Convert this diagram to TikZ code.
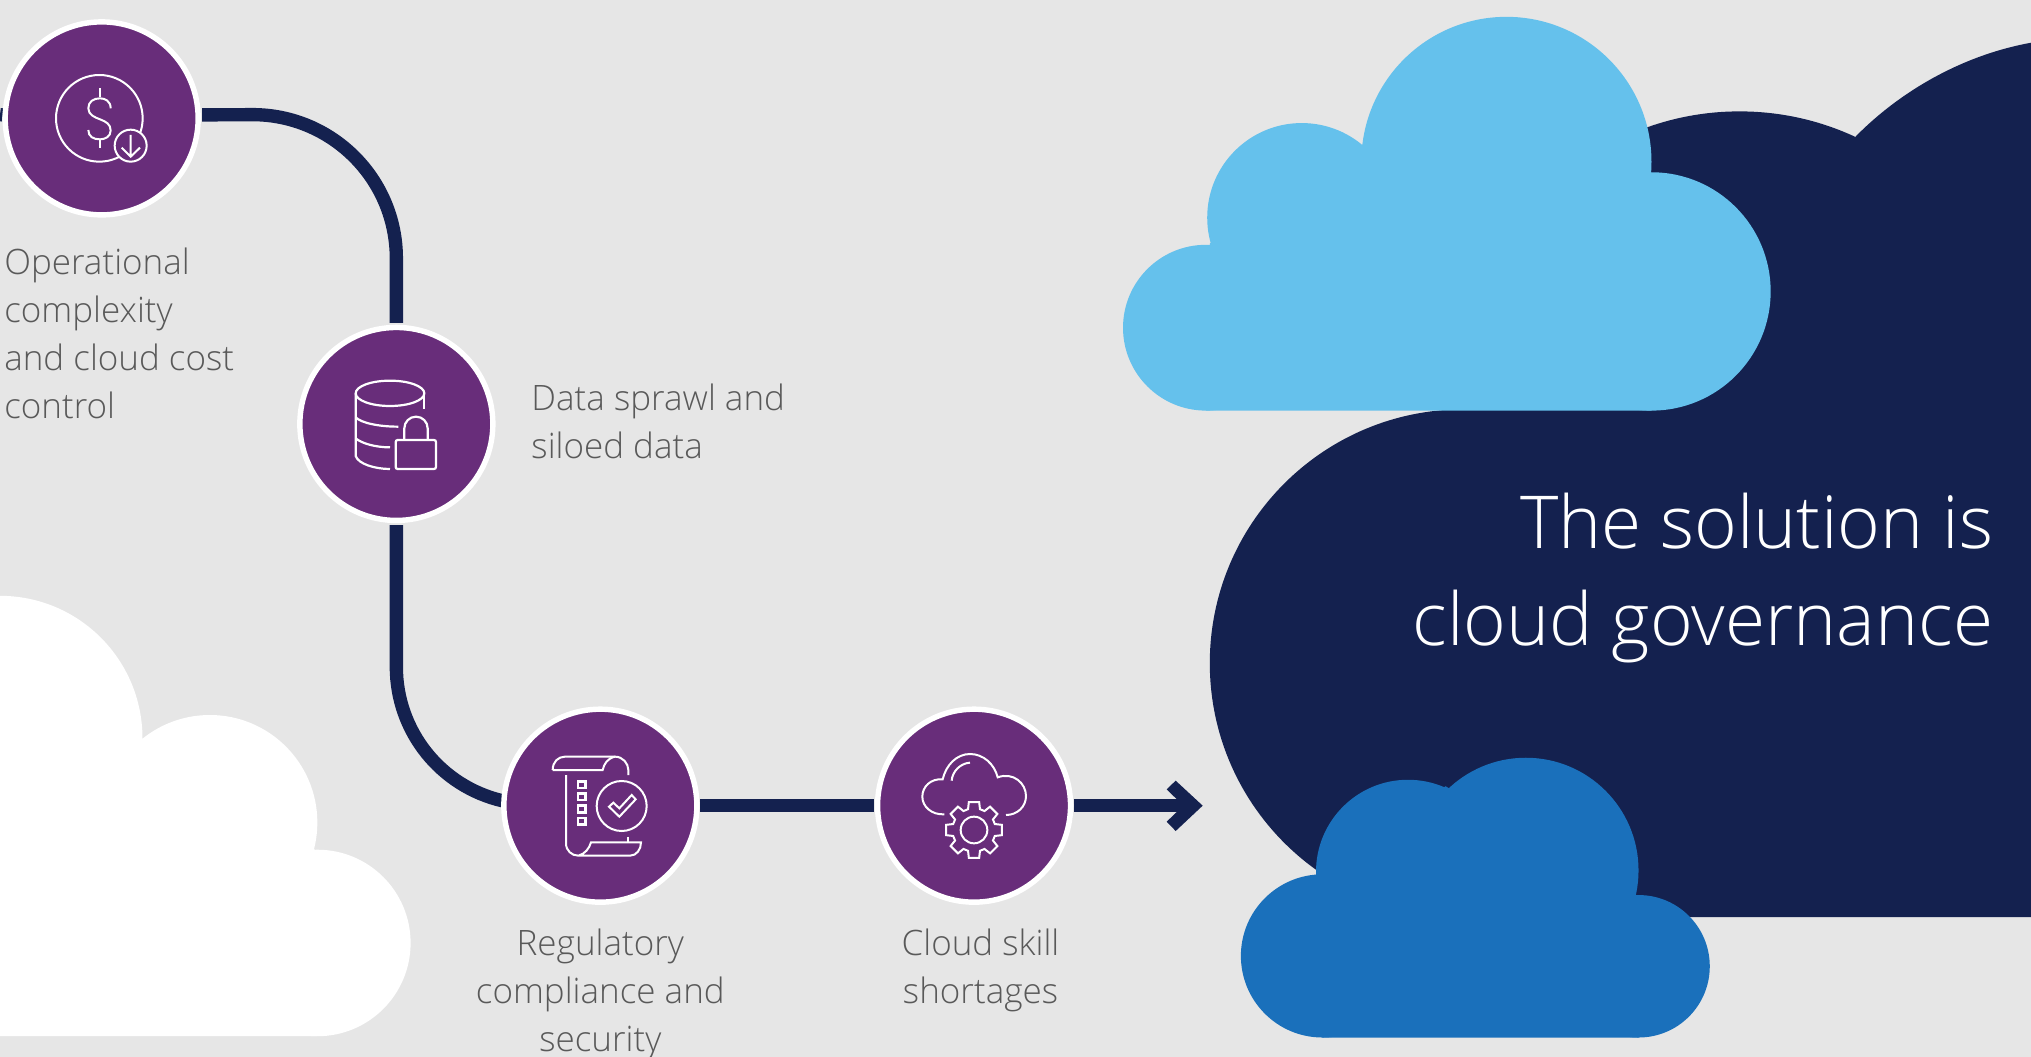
\documentclass[tikz,border=0pt]{standalone}
\usepackage{fontspec}
\setmainfont{Open Sans}[UprightFont={* Light}]
\definecolor{bgc}{HTML}{E6E6E6}
\definecolor{navy}{HTML}{14214F}
\definecolor{purp}{HTML}{682D7A}
\definecolor{sky}{HTML}{65C1EC}
\definecolor{azure}{HTML}{1A70BB}
\definecolor{txt}{HTML}{595959}
\pgfdeclarelayer{bg}
\pgfdeclarelayer{conn}
\pgfsetlayers{bg,conn,main}
\def\u{0.64764pt}
\def\z{0.16667pt}
\tikzset{
  issue/.style={circle,fill=purp,draw=white,line width=4.2*\u,minimum size=149*\u,inner sep=0pt},
  conn/.style={draw=navy,line width=10.3*\u},
  lbl/.style={text=txt,font=\fontsize{17.5}{24}\selectfont,inner sep=0pt},
  title/.style={text=white,font=\fontsize{36.5}{48.6}\selectfont,inner sep=0pt,align=right,anchor=east},
  ico/.style={x=\z,y=-\z,draw=white,line width=1pt,line join=miter},
}
\begin{document}
\begin{tikzpicture}[x=\u,y=-\u]
\useasboundingbox (0,0) rectangle (1568,816);
\begin{pgfonlayer}{bg}
\fill[bgc] (0,0) rectangle (1568,816);
% navy cloud
\fill[navy] (1130,512) circle[radius=196*\u];
\fill[navy] (1343,298) circle[radius=212*\u];
\fill[navy] (1130,318) -- (1343,200) -- (1434,104) .. controls (1470,68) and (1518,42) .. (1568,33) -- (1568,708) -- (1130,708) -- cycle;
% sky cloud
\fill[sky] (931,253) circle[radius=64*\u] (1005,168) circle[radius=73*\u] (1163,125) circle[radius=112*\u] (1275,225) circle[radius=92*\u];
\fill[sky] (931,317) -- (934,188) -- (1053,112) -- (1273,133) -- (1275,317) -- cycle;
% azure cloud
\fill[azure] (1021,738) circle[radius=63*\u] (1087,673) circle[radius=71*\u] (1178,672) circle[radius=87*\u] (1265,746) circle[radius=55*\u];
\fill[azure] (1021,801) -- (1015,676) -- (1116,607) -- (1263,692) -- (1265,801) -- cycle;
% white cloud
\fill[white] (0,570) circle[radius=110*\u] (162,635) circle[radius=83*\u] (245,728) circle[radius=72*\u];
\fill[white] (0,800) -- (0,460) -- (109,571) -- (243,656) -- (245,800) -- cycle;
\end{pgfonlayer}

\node[issue] (c1) at (78.5,91.4) {};
\node[issue] (c2) at (306,327.3) {};
\node[issue] (c3) at (463.5,622) {};
\node[issue] (c4) at (752,622) {};

\coordinate (stub) at (0,88.5);
\coordinate (tip) at (922,622);
\begin{pgfonlayer}{conn}
\draw[conn] (c1.178) -- (stub);
\draw[conn,shorten <=1*\u,shorten >=1.5*\u] (c1.2) -- (195,88.5) arc[start angle=90,end angle=0,radius=111*\u] -- (c2.north);
\draw[conn,shorten <=1.5*\u] (c2.south) -- (306,515) arc[start angle=180,end angle=257,radius=106*\u] -- (c3.176);
\draw[conn,shorten <=.5*\u,shorten >=.5*\u] (c3) -- (c4);
\draw[conn,shorten <=.5*\u] (c4) -- (tip);
\begin{scope}[shift={(430pt,-345pt)},x=\z,y=-\z]
\fill[navy] (1028,347) -- (947,272) -- (920,298) -- (970,347) -- (920,395) -- (947,423) -- cycle;
\end{scope}
\end{pgfonlayer}

% labels
\node[lbl,align=left,anchor=west] (t1) at (3,257) {Operational\\complexity\\and cloud cost\\control};
\node[lbl,align=left,anchor=west] (t2) at (410,325) {Data sprawl and\\siloed data};
\node[lbl,align=center,anchor=center] (t3) at (463.5,768) {Regulatory\\compliance and\\security};
\node[lbl,align=center,anchor=center] (t4) at (757,749.5) {Cloud skill\\shortages};
\node[title] (t5) at (1539,446) {The solution is\\cloud governance};

% icon 1
\begin{scope}[shift={(0pt,0pt)},ico]
\draw (298,355) circle[radius=130*\z];
\draw[fill=purp] (392,437) circle[radius=48*\z];
\draw (300,265) -- (300,292) (300,418) -- (300,445);
\draw (332,325) .. controls (332,303) and (315,295) .. (300,295) .. controls (280,295) and (265,305) .. (265,325) .. controls (265,345) and (285,352) .. (300,358) .. controls (318,365) and (332,372) .. (332,392) .. controls (332,410) and (315,418) .. (300,418) .. controls (280,418) and (265,410) .. (265,390);
\draw (392,405) -- (392,470) (365,443) -- (392,470) -- (420,443);
\end{scope}

% icon 2
\begin{scope}[shift={(140pt,-155pt)},ico,line width=1.1pt]
\draw (330,250) ellipse[x radius=103*\z,y radius=38*\z];
\draw (227,250) -- (227,438) .. controls (235,462) and (285,477) .. (330,477);
\draw (431,250) -- (431,298);
\draw (227,322) .. controls (245,340) and (300,350) .. (355,350);
\draw (227,385) .. controls (245,400) and (285,412) .. (330,412);
\draw[rounded corners=1pt] (347,390) rectangle (468,477);
\draw (373,390) -- (373,355) arc[start angle=180,end angle=0,radius=35*\z] -- (443,390);
\end{scope}

% icon 3
\begin{scope}[shift={(245pt,-345pt)},ico]
\draw (188,240) .. controls (188,215) and (205,200) .. (225,200) -- (375,200) .. controls (398,200) and (415,220) .. (415,240) -- (415,255);
\draw (188,240) -- (338,240) .. controls (342,222) and (352,205) .. (375,200);
\draw (228,255) -- (228,460) .. controls (228,482) and (245,497) .. (265,497) -- (420,497) .. controls (440,497) and (453,478) .. (453,457) -- (303,457) .. controls (298,475) and (285,492) .. (265,497);
\draw (413,440) -- (413,457);
\foreach \yy in {284,320,357,394} \draw[line width=1.2pt] (264,\yy-10) rectangle (286,\yy+10);
\draw (395,348) circle[radius=75*\z];
\draw (357,350) -- (370,338) -- (388,355) -- (425,315) -- (437,328) -- (388,380) -- cycle;
\end{scope}

% icon 4
\begin{scope}[shift={(430pt,-345pt)},ico]
\draw (253,373) .. controls (215,375) and (187,350) .. (187,320) .. controls (187,290) and (212,265) .. (248,268) .. controls (258,225) and (290,192) .. (330,192) .. controls (370,192) and (403,222) .. (413,262) .. controls (460,245) and (498,280) .. (498,318) .. controls (498,350) and (472,375) .. (438,375);
\draw (275,272) .. controls (277,245) and (300,220) .. (330,218);
\begin{scope}[shift={(342*\z,-420*\z)}]
\draw (0,0) circle[radius=40*\z];
\draw (-16:65) \foreach \a in {0,45,...,315}{ -- (\a-16:65) -- (\a-10.5:85) -- (\a+10.5:85) -- (\a+16:65)} -- cycle;
\end{scope}
\end{scope}
\end{tikzpicture}
\end{document}
